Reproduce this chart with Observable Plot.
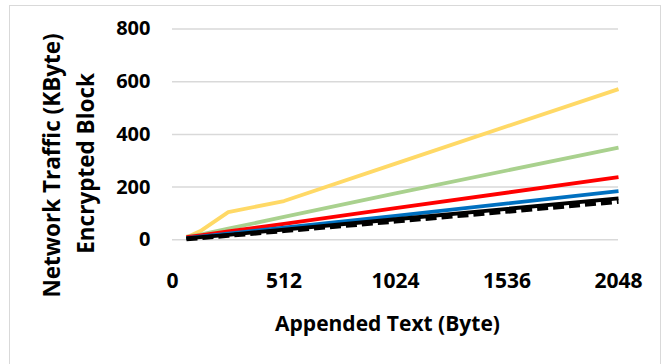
<!DOCTYPE html>
<html><head><meta charset="utf-8">
<script src="https://cdn.jsdelivr.net/npm/d3@7"></script>
<script src="https://cdn.jsdelivr.net/npm/@observablehq/plot@0.6"></script>
<style>
body{margin:0;background:#fff;}
#wrap{position:relative;width:666px;height:364px;overflow:hidden;background:#fff;}
#frame{position:absolute;left:9px;top:5px;width:652px;height:400px;border:1.5px solid #d9d9d9;box-sizing:border-box;pointer-events:none;}
#chart{position:absolute;left:0;top:0;}
</style></head><body>
<div id="wrap"><div id="frame"></div><div id="chart"></div></div>
<script>
const appendedBytes = [64, 128, 256, 512, 1024, 2048];
const seriesNames = ["S1", "S2", "S3", "S4", "S5", "S6"];
const seriesColors = ["#FFD966", "#A9D18E", "#FF0000", "#0070C0", "#000000", "#000000"];
const s1Values = [9, 33, 105, 147, 289, 572];
const s2Values = [12, 20, 42, 87, 176, 350];
const s3Values = [10, 17, 32, 60, 120, 238];
const s4Values = [6, 12, 23, 46, 91, 185];
const s5Values = [5, 10, 19, 39, 78, 157];
const s6Values = [3, 7, 16, 34, 70, 145];
const xTicks = [0, 512, 1024, 1536, 2048];
const yTicks = [0, 200, 400, 600, 800];
const xTitle = "Appended Text (Byte)";
const yTitle1 = "Network Traffic (KByte)";
const yTitle2 = "Encrypted Block";

const allValues = [s1Values, s2Values, s3Values, s4Values, s5Values, s6Values];
const rows = seriesNames.map((name, i) =>
  appendedBytes.map((b, j) => ({series: name, bytes: b, value: allValues[i][j]})));

const font = "'Open Sans', sans-serif";
const solidMarks = rows.slice(0, 5).map(r =>
  Plot.line(r, {x: "bytes", y: "value", stroke: "series", strokeWidth: 3.8, strokeLinejoin: "round", strokeLinecap: "butt"}));

const chart = Plot.plot({
  width: 666,
  height: 364,
  marginLeft: 172,
  marginRight: 48,
  marginTop: 28.5,
  marginBottom: 124.7,
  style: {fontFamily: font, color: "#000", background: "transparent", overflow: "visible"},
  x: {domain: [0, 2048], label: null},
  y: {domain: [0, 800], label: null},
  color: {domain: seriesNames, range: seriesColors},
  marks: [
    Plot.gridY(yTicks, {stroke: "#d9d9d9", strokeOpacity: 1, strokeWidth: 1.5}),
    Plot.axisY(yTicks, {tickSize: 0, tickPadding: 22, fontSize: 20, fontWeight: "bold", label: null, tickFormat: d => String(d)}),
    Plot.axisX(xTicks, {tickSize: 0, tickPadding: 33, fontSize: 21, fontWeight: "bold", label: null, tickFormat: d => String(d)}),
    ...solidMarks,
    Plot.line(rows[5], {x: "bytes", y: "value", stroke: "series", strokeWidth: 4.5, strokeDasharray: "11 5", strokeLinecap: "butt"}),
    Plot.text([xTitle], {frameAnchor: "bottom", text: d => d, dx: -8, dy: 84, fontSize: 21, fontWeight: "bold", textAnchor: "middle", lineAnchor: "middle", fill: "#000"}),
    Plot.text([yTitle1], {frameAnchor: "left", text: d => d, rotate: -90, dx: -120, dy: 31, fontSize: 22.5, fontWeight: "bold", textAnchor: "middle", lineAnchor: "middle", fill: "#000"}),
    Plot.text([yTitle2], {frameAnchor: "left", text: d => d, rotate: -90, dx: -86, dy: 29, fontSize: 22.5, fontWeight: "bold", textAnchor: "middle", lineAnchor: "middle", fill: "#000"})
  ]
});
document.getElementById("chart").appendChild(chart);
</script>
</body></html>
